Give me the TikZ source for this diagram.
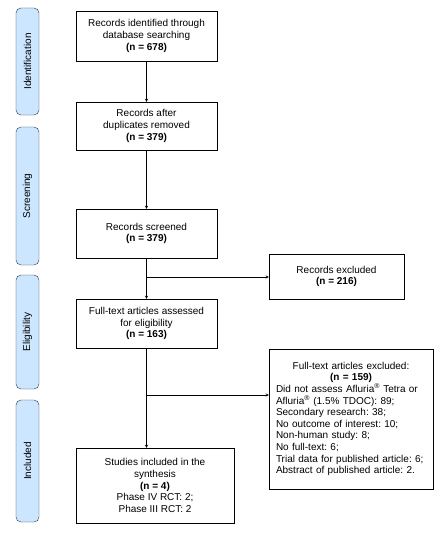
\documentclass[tikz,border=0pt]{standalone}
\usepackage{fontspec}
\setmainfont{Liberation Sans}
\definecolor{stagefill}{RGB}{205,230,255}
\definecolor{stageline}{RGB}{40,50,70}
\tikzset{
  flowbox/.style={draw,thin,align=center,inner sep=2pt,
    font=\fontsize{10}{11.6}\selectfont\frenchspacing},
  stagebox/.style={draw=stageline,fill=stagefill,rounded corners=5pt,
    rotate=90,minimum height=23pt,inner sep=0pt,
    font=\fontsize{10}{12}\selectfont},
}
\begin{document}
\begin{tikzpicture}[x=1pt,y=-1pt,>=stealth]
    \useasboundingbox (0,0) rectangle (445,535);
    % --- stages on the left ---
    \node[stagebox,minimum width=107pt] (ident) at (27.5,61.5) {Identification};
    \node[stagebox,minimum width=138pt] (screen) at (27.5,196) {Screening};
    \node[stagebox,minimum width=114pt] (elig) at (27.5,332) {Eligibility};
    \node[stagebox,minimum width=122pt] (incl) at (27.5,461) {Included};
    % --- main column ---
    \node[flowbox,minimum width=141pt,minimum height=50pt] (found) at (146.5,36)
      {Records identified through\\ database searching\\ \textbf{(n = 678)}};
    \node[flowbox,minimum width=141pt,minimum height=48pt] (dedup) at (146.5,126)
      {Records after\\ duplicates removed\\ \textbf{(n = 379)}};
    \node[flowbox,minimum width=141pt,minimum height=49pt] (screened) at (146.5,233.5)
      {Records screened\\ \textbf{(n = 379)}};
    \node[flowbox,minimum width=141pt,minimum height=49pt] (fulltext) at (146.5,323.5)
      {Full-text articles assessed\\ for eligibility\\ \textbf{(n = 163)}};
    \node[flowbox,minimum width=158pt,minimum height=75pt] (included) at (155,485.5)
      {Studies included in the\\ synthesis\\ \textbf{(n = 4)}\\ Phase IV RCT: 2;\\ Phase III RCT: 2};
    % --- exclusions ---
    \node[flowbox,minimum width=135pt,minimum height=45pt] (recexcl) at (336.5,276.5)
      {Records excluded\\ \textbf{(n = 216)}};
    \node[flowbox,text width=150pt,inner xsep=7pt,minimum height=140pt,align=left] (ftexcl) at (351,419)
      {{\centering Full-text articles excluded:\\ \textbf{(n = 159)}\par}
       Did not assess Afluria\textsuperscript{\textregistered} Tetra or\\
       Afluria\textsuperscript{\textregistered} (1.5\% TDOC): 89;\\
       Secondary research: 38;\\
       No outcome of interest: 10;\\
       Non-human study: 8;\\
       No full-text: 6;\\
       Trial data for published article: 6;\\
       Abstract of published article: 2.};
    % --- connectors ---
    \draw[->] (found) -- (dedup);
    \draw[->] (dedup) -- (screened);
    \draw[->] (screened) -- (fulltext);
    \draw[->] (fulltext) -- (fulltext |- included.north);
    \coordinate (split1) at (146.5,277);
    \coordinate (split2) at (146.5,395);
    \draw[->] (split1) -- (split1 -| recexcl.west);
    \draw[->] (split2) -- (split2 -| ftexcl.west);
\end{tikzpicture}
\end{document}
